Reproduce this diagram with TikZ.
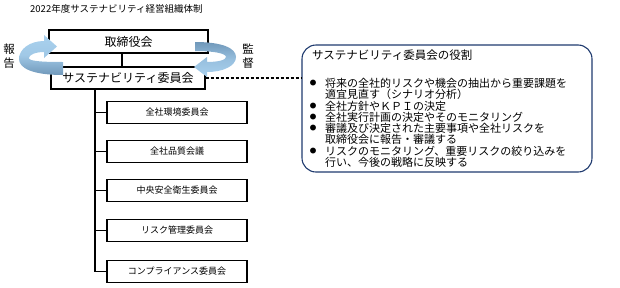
\documentclass[tikz,border=0pt]{standalone}
\usepackage{fontspec}
\setmainfont{Noto Sans CJK JP}
\usetikzlibrary{calc}
\definecolor{lightband}{HTML}{A9D1EE}
\definecolor{darkband}{HTML}{7098BA}
\definecolor{navy}{HTML}{1F3A6E}
\tikzset{
  mainbox/.style={draw=black, line width=1.4pt, fill=white, inner sep=0pt, font=\fontsize{12}{12}\selectfont},
  subbox/.style={draw=black, line width=1.3pt, fill=white, minimum width=140pt, minimum height=22pt, inner sep=0pt, font=\fontsize{9}{9}\selectfont},
  conn/.style={draw=black, line width=1.3pt},
  rolebox/.style={draw=navy, line width=1.1pt, rounded corners=14pt, minimum width=290pt, minimum height=127pt, inner sep=0pt},
  roleline/.style={anchor=west, inner sep=0pt, font=\fontsize{11}{11}\selectfont},
  bulletmark/.style={inner sep=0pt, font=\fontsize{6.5}{6.5}\selectfont},
  sidelabel/.style={inner sep=0pt, align=center, font=\fontsize{11.5}{13.5}\selectfont}
}
\begin{document}
\begin{tikzpicture}[x=1pt,y=-1pt]
\useasboundingbox (0,0) rectangle (620,287);
% title
\node[anchor=west, inner sep=0pt, font=\fontsize{9.5}{9.5}\selectfont] (title) at (30,9) {2022年度サステナビリティ経営組織体制};
% main boxes
\node[mainbox, minimum width=159pt, minimum height=23pt] (tb) at (128.5,41.5) {取締役会};
\node[mainbox, minimum width=154pt, minimum height=22pt] (sv) at (128,78) {サステナビリティ委員会};
\draw[conn] ([xshift=-6pt]sv.north) -- ([xshift=-6pt]sv.north |- tb.south);
% sub committees
\node[subbox] (c1) at (177,112.5) {全社環境委員会};
\node[subbox] (c2) at (177,151.5) {全社品質会議};
\node[subbox] (c3) at (177,190.5) {中央安全衛生委員会};
\node[subbox] (c4) at (177,230.5) {リスク管理委員会};
\node[subbox] (c5) at (177,271.5) {コンプライアンス委員会};
\coordinate (t) at ([xshift=-33pt]sv.south);
\foreach \c in {c1,c2,c3,c4,c5} \draw[conn] (t) |- (\c.west);
% role box
\node[rolebox] (role) at (447,108.5) {};
\draw[line width=1.3pt, dash pattern=on 3pt off 2pt] (sv.east) -- (role.west |- sv.east);
\node[anchor=west, inner sep=0pt, font=\fontsize{11.5}{11.5}\selectfont] (rt) at (312,55) {サステナビリティ委員会の役割};
\node[bulletmark] (b1) at (313,83.3) {●};
\node[roleline] (l1) at (325,83.3) {将来の全社的リスクや機会の抽出から重要課題を};
\node[roleline] (l2) at (325,94.6) {適宜見直す（シナリオ分析）};
\node[bulletmark] (b2) at (313,105.9) {●};
\node[roleline] (l3) at (325,105.9) {全社方針やＫＰＩの決定};
\node[bulletmark] (b3) at (313,117.2) {●};
\node[roleline] (l4) at (325,117.2) {全社実行計画の決定やそのモニタリング};
\node[bulletmark] (b4) at (313,128.5) {●};
\node[roleline] (l5) at (325,128.5) {審議及び決定された主要事項や全社リスクを};
\node[roleline] (l6) at (325,139.8) {取締役会に報告・審議する};
\node[bulletmark] (b5) at (313,151.1) {●};
\node[roleline] (l7) at (325,151.1) {リスクのモニタリング、重要リスクの絞り込みを};
\node[roleline] (l8) at (325,162.4) {行い、今後の戦略に反映する};
% circular arrows
\shade[top color=lightband, bottom color=darkband, middle color=lightband!85!darkband]
  (63,75) .. controls (32,75) and (19,68) .. (19,59)
  .. controls (19,49) and (30,41) .. (44,41)
  -- (44,35) -- (57,46.5) -- (44,58) -- (44,52)
  .. controls (35,52) and (29,55) .. (29,58)
  .. controls (29,61) and (40,62) .. (63,62) -- cycle;
\shade[top color=darkband, bottom color=lightband, middle color=lightband!70!darkband]
  (195,42) .. controls (222,42) and (236,48) .. (236,57)
  .. controls (236,66) and (223,72) .. (207,72)
  -- (207,77) -- (194,67) -- (207,57) -- (207,62)
  .. controls (218,62) and (226,60) .. (226,57)
  .. controls (226,53) and (212,51) .. (195,51) -- cycle;
% side labels
\node[sidelabel] (rep) at (9,56) {報\\告};
\node[sidelabel] (sup) at (248,56) {監\\督};
\end{tikzpicture}
\end{document}
